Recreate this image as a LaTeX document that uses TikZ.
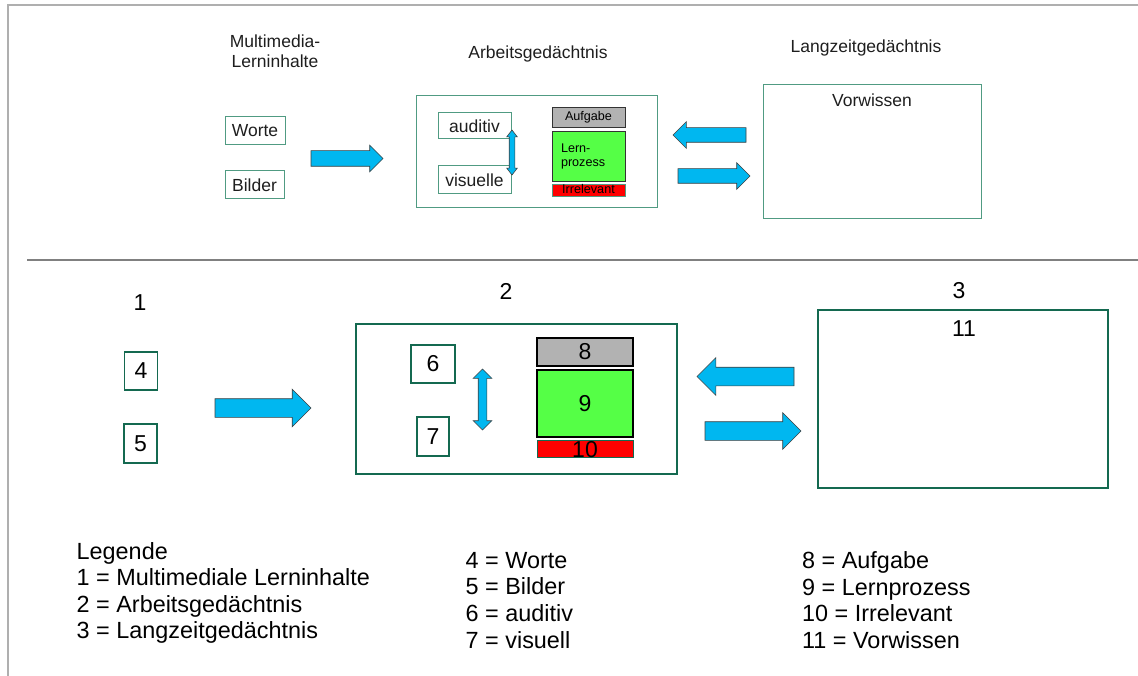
\documentclass[tikz,border=0pt]{standalone}
\usepackage{fontspec}
\setmainfont{Liberation Sans}
\usetikzlibrary{shapes.arrows}

\definecolor{rahmengruen}{RGB}{20,105,80}
\definecolor{hellgruen}{RGB}{80,155,130}
\definecolor{pfeilblau}{RGB}{0,183,240}
\definecolor{lerngruen}{RGB}{85,255,70}
\definecolor{aufgabegrau}{RGB}{178,178,178}
\definecolor{linienhell}{RGB}{175,175,175}
\definecolor{liniendunkel}{RGB}{128,128,128}
\definecolor{schrift}{RGB}{30,30,30}

\begin{document}
\begin{tikzpicture}[x=1pt, y=-1pt]
   \tikzstyle{titel}=[inner sep=0pt, text=schrift, font=\fontsize{17.5}{19.5}\selectfont]
   \tikzstyle{kasten}=[draw=hellgruen, line width=1pt, inner sep=0pt, text=schrift, font=\fontsize{17.5}{20}\selectfont]
   \tikzstyle{kleinkasten}=[draw=black!80, line width=0.8pt, inner sep=0pt, font=\fontsize{12.6}{14}\selectfont]
   \tikzstyle{zahl}=[inner sep=0pt, font=\fontsize{23}{27}\selectfont]
   \tikzstyle{zahlkasten}=[draw=rahmengruen, line width=1.6pt, inner sep=0pt, font=\fontsize{23}{27}\selectfont]
   \tikzstyle{speicher}=[draw=black, line width=1.4pt, inner sep=0pt, font=\fontsize{23}{27}\selectfont]
   \tikzstyle{pfeil}=[single arrow, draw=black!75, fill=pfeilblau, line width=0.6pt, inner xsep=0pt, outer sep=0pt, minimum width=0pt, single arrow head indent=0pt]
   \tikzstyle{doppelpfeil}=[double arrow, draw=black!75, fill=pfeilblau, line width=0.6pt, inner xsep=0pt, outer sep=0pt, minimum width=0pt, double arrow head indent=0pt, rotate=90]
   \tikzstyle{legende}=[inner sep=0pt, anchor=north west, align=left, font=\fontsize{23.4}{26.6}\selectfont]

\useasboundingbox (0,0) rectangle (1138,676);
\draw[linienhell, line width=2pt] (8,676) -- (8,5) -- (1138,5);
\draw[liniendunkel, line width=2pt] (27,260) -- (1138,260);

\node[titel, align=center, anchor=north] (titelmedien) at (275,35) {Multimedia-\\Lerninhalte};
\node[titel, anchor=base] (titelarbeit) at (538,58.6) {Arbeitsged\"achtnis};
\node[titel, anchor=base] (titellangzeit) at (866,53) {Langzeitged\"achtnis};

\node[kasten, minimum width=60pt, minimum height=28pt] (worte) at (255,131) {Worte};
\node[kasten, minimum width=59pt, minimum height=28pt] (bilder) at (254.5,185) {Bilder};
\node[pfeil, anchor=tail, minimum height=72pt, inner ysep=7.5pt, single arrow head extend=5.5pt] (pfeilmedien) at (311,158.5) {};

\node[kasten, minimum width=241pt, minimum height=112pt] (arbeit) at (536.5,152) {};
\node[kasten, minimum width=73pt, minimum height=26pt] (auditiv) at (474.5,126) {auditiv};
\node[kasten, minimum width=73pt, minimum height=28pt] (visuelle) at (474.5,180) {visuelle};
\node[doppelpfeil, minimum height=45pt, inner ysep=2.5pt, double arrow head extend=2.5pt, double arrow tip angle=75] (wechsel) at (512,152.5) {};
\node[kleinkasten, fill=aufgabegrau, minimum width=73pt, minimum height=20pt] (aufgabe) at (588.5,117) {Aufgabe};
\node[kleinkasten, fill=lerngruen, minimum width=73pt, minimum height=50pt, text width=55pt, align=left, inner xsep=9pt] (lernprozess) at (588.5,156) {Lern-\\prozess};
\node[kleinkasten, draw=hellgruen, fill=red, minimum width=73pt, minimum height=12pt, text height=8pt, text depth=1pt, inner ysep=0pt] (irrelevant) at (588.5,190) {Irrelevant};

\node[pfeil, anchor=tail, shape border rotate=180, minimum height=73pt, inner ysep=7pt, single arrow head extend=6pt] (pfeilabruf) at (746,135) {};
\node[pfeil, anchor=tail, minimum height=72pt, inner ysep=7pt, single arrow head extend=6pt] (pfeilspeichern) at (678,176) {};
\node[kasten, minimum width=218pt, minimum height=134pt] (langzeit) at (872,152) {};
\node[titel, anchor=base] (vorwissen) at (872,107) {Vorwissen};

\node[zahl] (nr1) at (140,303) {1};
\node[zahl] (nr2) at (506,291) {2};
\node[zahl] (nr3) at (959,291) {3};

\node[zahlkasten, minimum width=33pt, minimum height=38pt] (nr4) at (141,371) {4};
\node[zahlkasten, minimum width=33pt, minimum height=39pt] (nr5) at (140.5,443.5) {5};
\node[pfeil, anchor=tail, minimum height=96pt, inner ysep=9pt, single arrow head extend=9.5pt] (pfeilunten) at (215,408) {};

\node[zahlkasten, minimum width=321pt, minimum height=150pt] (nrarbeit) at (516.5,399) {};
\node[zahlkasten, minimum width=44pt, minimum height=38pt] (nr6) at (433,364) {6};
\node[zahlkasten, minimum width=32pt, minimum height=39pt] (nr7) at (433,436.5) {7};
\node[doppelpfeil, minimum height=61pt, inner ysep=4pt, double arrow head extend=5pt] (wechselunten) at (482.5,399.5) {};
\node[speicher, fill=aufgabegrau, minimum width=96pt, minimum height=28pt] (nr8) at (585,352) {8};
\node[speicher, fill=lerngruen, minimum width=96pt, minimum height=67pt] (nr9) at (585,403.5) {9};
\node[speicher, draw=rahmengruen, line width=1pt, fill=red, minimum width=96pt, minimum height=16pt, text height=17pt, text depth=0pt, inner ysep=0pt] (nr10) at (585,449) {10};

\node[pfeil, anchor=tail, shape border rotate=180, minimum height=97pt, inner ysep=9pt, single arrow head extend=9.5pt] (pfeilabrufunten) at (794,376.5) {};
\node[pfeil, anchor=tail, minimum height=96pt, inner ysep=9pt, single arrow head extend=9pt] (pfeilspeichernunten) at (705,431) {};
\node[zahlkasten, minimum width=290pt, minimum height=178pt] (nrlangzeit) at (963,399) {};
\node[zahl] (nr11) at (964,329) {11};

\node[legende] (legende1) at (76.5,542) {Legende\\1 = Multimediale Lerninhalte\\2 = Arbeitsged\"achtnis\\3 = Langzeitged\"achtnis};
\node[legende] (legende2) at (465.5,552) {4 = Worte\\5 = Bilder\\6 = auditiv\\7 = visuell};
\node[legende] (legende3) at (802,551.5) {8 = Aufgabe\\9 = Lernprozess\\10 = Irrelevant\\11 = Vorwissen};

\end{tikzpicture}
\end{document}
